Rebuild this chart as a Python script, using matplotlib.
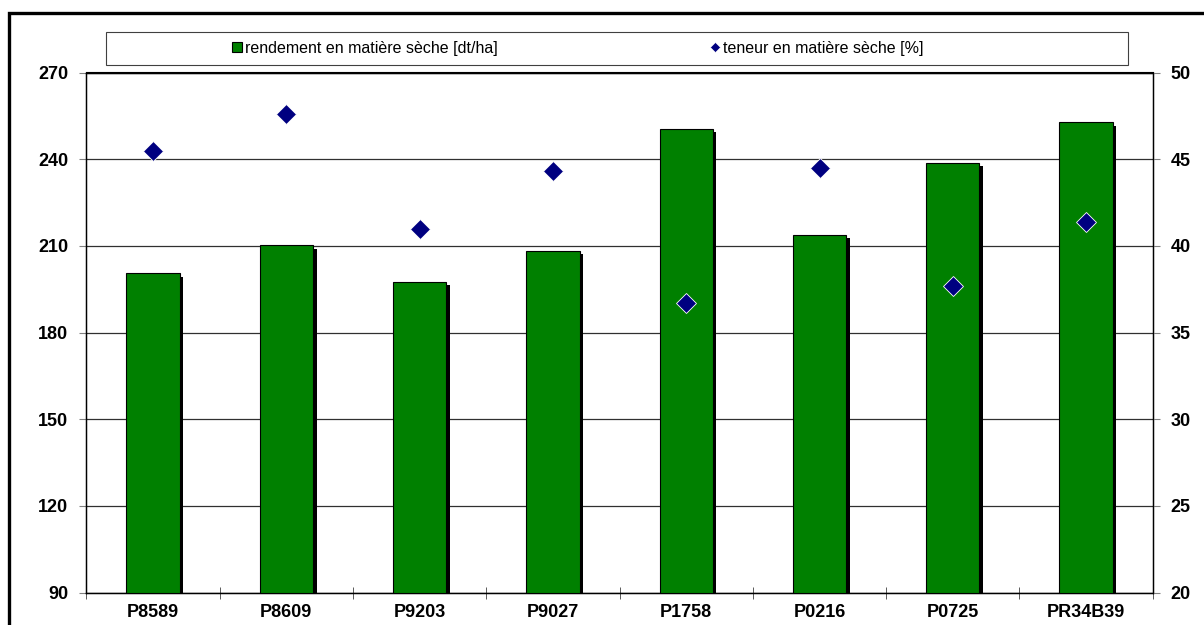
import numpy as np
import matplotlib
matplotlib.use("Agg")
import matplotlib.pyplot as plt
import matplotlib.patheffects as pe
from matplotlib.patches import Rectangle
from matplotlib.lines import Line2D

# donnees
varietes = ["P8589", "P8609", "P9203", "P9027", "P1758", "P0216", "P0725", "PR34B39"]
rendement = [200.5, 210.2, 197.6, 208.3, 250.4, 213.8, 238.7, 252.8]   # dt/ha
teneur = [45.5, 47.6, 41.0, 44.3, 36.7, 44.5, 37.7, 41.4]              # %

plt.rcParams['font.family'] = ['Liberation Sans', 'DejaVu Sans']

fig = plt.figure(figsize=(12.04, 6.25), dpi=100)
ax = fig.add_axes([0.0718, 0.052, 0.8856, 0.832])
x = np.arange(len(varietes))

# barres avec ombre portee
ax.bar(x, rendement, width=0.4, color="#008000", edgecolor="black", linewidth=0.8,
       zorder=3,
       path_effects=[pe.SimplePatchShadow(offset=(2.6, -2.4), shadow_rgbFace="black", alpha=1.0),
                     pe.Normal()])
ax.set_ylim(90, 270)
ax.set_yticks(np.arange(90, 271, 30))
ax.set_xlim(-0.5, len(varietes) - 0.5)
ax.grid(axis="y", color="#303030", linewidth=0.9, zorder=0)
ax.set_axisbelow(True)

ax.set_xticks(x)
ax.set_xticklabels(varietes, fontweight="bold", fontsize=13)
ax.set_xticks(np.arange(-0.5, len(varietes)), minor=True)
ax.tick_params(axis="x", which="major", length=0, pad=8)
ax.tick_params(axis="x", which="minor", length=8, direction="inout", color="#404040")
ax.tick_params(axis="y", length=5, color="#808080", pad=8)
for lab in ax.get_yticklabels():
    lab.set_fontweight("bold")
    lab.set_fontsize(13)
for s in ax.spines.values():
    s.set_color("black")
    s.set_linewidth(1.0)

# axe secondaire : teneur en matiere seche
ax2 = ax.twinx()
ax2.plot(x, teneur, linestyle="none", marker="D", markersize=10.5, color="#000080",
         markeredgecolor="white", markeredgewidth=0.6, zorder=4)
ax2.set_ylim(20, 50)
ax2.set_yticks(np.arange(20, 51, 5))
ax2.tick_params(axis="y", length=5, color="#808080", pad=8)
for lab in ax2.get_yticklabels():
    lab.set_fontweight("bold")
    lab.set_fontsize(13)

# cadre de la legende
fig.patches.append(Rectangle((106 / 1204, 1 - 65 / 625), 1022 / 1204, 32.5 / 625,
                             transform=fig.transFigure, fill=False,
                             edgecolor="#404040", linewidth=0.8))
handles = [
    Line2D([], [], linestyle="none", marker="s", markersize=7, markerfacecolor="#008000",
           markeredgecolor="black", markeredgewidth=0.8),
    Line2D([], [], linestyle="none", marker="D", markersize=5, markerfacecolor="#000080",
           markeredgecolor="white", markeredgewidth=0.4),
]
labels = ["rendement en matière sèche [dt/ha]", "teneur en matière sèche [%]"]
fig.legend(handles, labels, loc="center", bbox_to_anchor=(578 / 1204, 1 - 48.5 / 625),
           ncol=2, frameon=False, fontsize=11.5, handlelength=0.6, handletextpad=0.2,
           columnspacing=13.3)

# cadre exterieur
fig.patches.append(Rectangle((9 / 1204, -0.1), 1.2, 1 - 13 / 625 + 0.1,
                             transform=fig.transFigure, fill=False,
                             edgecolor="black", linewidth=2.4))

fig.savefig("out.png", dpi=100)
